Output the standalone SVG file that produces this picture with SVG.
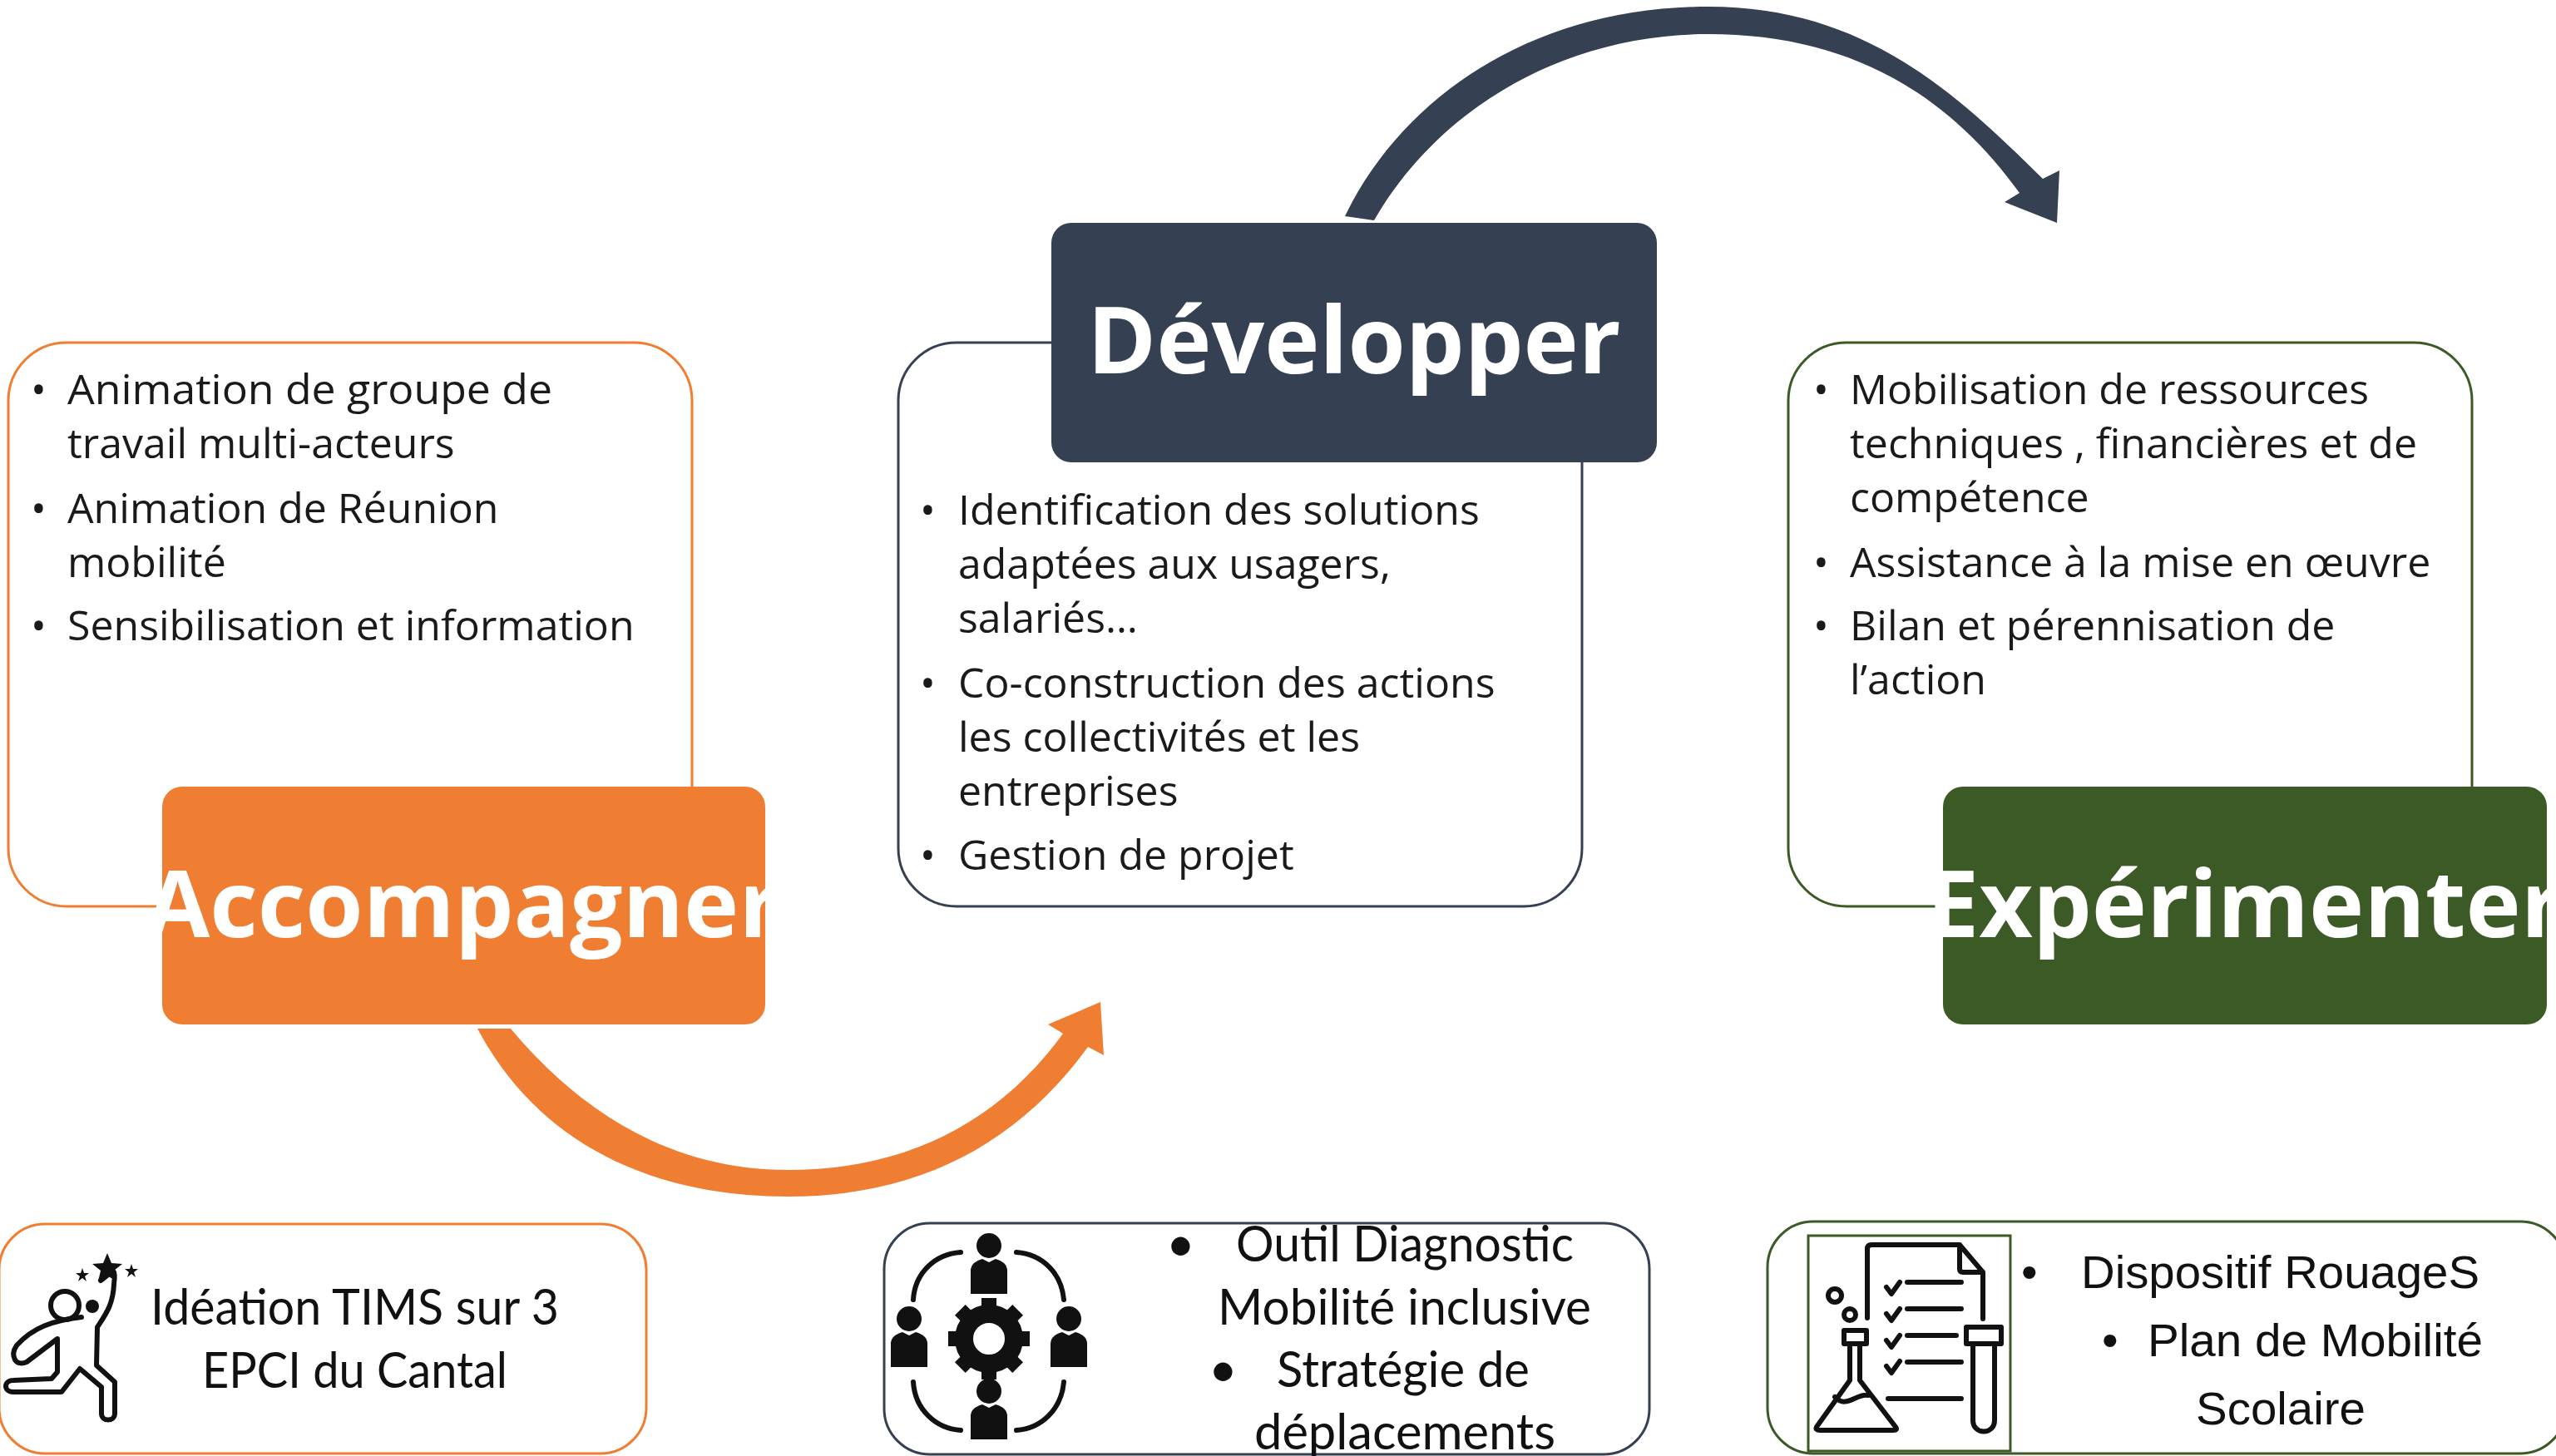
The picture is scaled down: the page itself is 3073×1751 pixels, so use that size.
<svg xmlns="http://www.w3.org/2000/svg" width="3073" height="1751" viewBox="0 0 3073 1751">
<style>
.b{font-family:"Open Sans","Noto Sans",sans-serif;font-size:50px;fill:#1a1a1a}
.t{font-family:"Open Sans","Noto Sans",sans-serif;font-size:112px;font-weight:700;fill:#fff}
.c{font-family:Lato,"Open Sans",sans-serif;font-size:60px;fill:#111}
.a{font-family:"Liberation Sans",Arial,sans-serif;font-size:56px;fill:#111}
.box{fill:#fff;stroke-width:3}
.ic{fill:none;stroke:#111;stroke-width:6;stroke-linecap:round;stroke-linejoin:round}
.icb{fill:#111}
</style>
<defs>
<g id="person"><ellipse cx="0" cy="-22" rx="15" ry="15"/><path d="M-22,36 L-22,8 Q-22,-2 -8,-6 L0,-2 L8,-6 Q22,-2 22,8 L22,36 Z"/></g>
</defs>
<rect width="3073" height="1751" fill="#fff"/>
<g id="connectors">
<path id="arrow-accompagner-developper" fill="#F07E32" d="M574,1237 C650,1380 790,1439 947,1439 C1100,1439 1220,1380 1308,1259 L1327,1269 L1323,1205 L1260,1232 L1278,1243 C1200,1350 1090,1407 947,1407 C810,1407 700,1340 614,1237 Z"/>
<path id="arrow-developper-experimenter" fill="#354052" d="M1617,260 C1690,110 1850,8 2054,8 C2240,8 2350,110 2456,215 L2476,205 L2473,268 L2410,243 L2428,232 C2340,110 2220,41 2054,41 C1880,41 1730,130 1652,265 Z"/>
</g>
<g id="panel-accompagner">
<rect class="box" x="10" y="412" width="822" height="678" rx="70" stroke="#F07E32"/>
<text class="b" x="37" y="486">•</text><text class="b" x="81" y="486" textLength="583" lengthAdjust="spacingAndGlyphs">Animation de groupe de</text>
<text class="b" x="81" y="551">travail multi-acteurs</text>
<text class="b" x="37" y="629">•</text><text class="b" x="81" y="629">Animation de Réunion</text>
<text class="b" x="81" y="694">mobilité</text>
<text class="b" x="37" y="770">•</text><text class="b" x="81" y="770">Sensibilisation et information</text>
</g>
<g id="node-accompagner">
<rect x="195" y="946" width="725" height="286" rx="24" fill="#F07E32"/>
<text class="t" x="557" y="1127" text-anchor="middle">Accompagner</text>
</g>
<g id="panel-developper">
<rect class="box" x="1080" y="412" width="822" height="678" rx="70" stroke="#354052"/>
<text class="b" x="1106" y="631">•</text><text class="b" x="1152" y="631">Identification des solutions</text>
<text class="b" x="1152" y="696">adaptées aux usagers,</text>
<text class="b" x="1152" y="761">salariés…</text>
<text class="b" x="1106" y="839">•</text><text class="b" x="1152" y="839">Co-construction des actions</text>
<text class="b" x="1152" y="904">les collectivités et les</text>
<text class="b" x="1152" y="969">entreprises</text>
<text class="b" x="1106" y="1046">•</text><text class="b" x="1152" y="1046">Gestion de projet</text>
</g>
<g id="node-developper">
<rect x="1264" y="268" width="728" height="288" rx="24" fill="#354052"/>
<text class="t" x="1628" y="449" text-anchor="middle">Développer</text>
</g>
<g id="panel-experimenter">
<rect class="box" x="2150" y="412" width="822" height="678" rx="70" stroke="#3C5A25"/>
<text class="b" x="2180" y="486">•</text><text class="b" x="2224" y="486">Mobilisation de ressources</text>
<text class="b" x="2224" y="551">techniques , financières et de</text>
<text class="b" x="2224" y="616">compétence</text>
<text class="b" x="2180" y="694">•</text><text class="b" x="2224" y="694">Assistance à la mise en œuvre</text>
<text class="b" x="2180" y="770">•</text><text class="b" x="2224" y="770">Bilan et pérennisation de</text>
<text class="b" x="2224" y="835">l’action</text>
</g>
<g id="node-experimenter">
<rect x="2336" y="946" width="726" height="286" rx="24" fill="#3C5A25"/>
<text class="t" x="2699" y="1127" text-anchor="middle">Expérimenter</text>
</g>
<g id="card-ideation">
<rect class="box" x="-1" y="1472" width="778" height="276" rx="55" stroke="#F07E32" stroke-width="4"/>
<g id="icon-runner">
<path class="ic" d="M121,1540 C135,1530 140,1520 137,1544 C136,1570 126,1582 117,1596 L116,1642 L138,1662 L138,1700 C138,1710 122,1710 122,1700 L122,1668 L96,1646 L74,1674 L16,1674 C4,1674 4,1660 16,1660 L62,1658 L69,1650 L69,1610 L32,1638 C18,1644 12,1630 20,1618 C40,1596 64,1588 98,1584"/>
<circle class="ic" cx="78" cy="1570" r="17"/>
<circle class="icb" cx="111" cy="1571" r="8"/>
<path class="icb" d="M129,1507 l5,12 13,1 -10,8 3,13 -11,-7 -11,7 3,-13 -10,-8 13,-1 Z"/>
<path class="icb" d="M99,1525 l2,6 6,0 -5,4 2,6 -5,-4 -5,4 2,-6 -5,-4 6,0 Z"/>
<path class="icb" d="M158,1520 l2,6 6,0 -5,4 2,6 -5,-4 -5,4 2,-6 -5,-4 6,0 Z"/>
</g>
<text class="c" x="181" y="1593" textLength="491" lengthAdjust="spacingAndGlyphs">Idéation TIMS sur 3</text>
<text class="c" x="243" y="1669" textLength="367" lengthAdjust="spacingAndGlyphs">EPCI du Cantal</text>
</g>
<g id="card-diagnostic">
<rect class="box" x="1063" y="1471" width="920" height="278" rx="55" stroke="#354052" stroke-width="4"/>
<g id="icon-gear" class="icb">
<use href="#person" x="1189" y="1520"/><use href="#person" x="1093" y="1608"/><use href="#person" x="1285" y="1608"/><use href="#person" x="1189" y="1695"/>
<circle cx="1189" cy="1610" r="30" fill="none" stroke="#111" stroke-width="22"/>
<path d="M1180,1561 h18 v20 h-18 Z M1180,1639 h18 v20 h-18 Z M1140,1601 h20 v18 h-20 Z M1218,1601 h20 v18 h-20 Z"/>
<path d="M1180,1561 h18 v20 h-18 Z M1180,1639 h18 v20 h-18 Z M1140,1601 h20 v18 h-20 Z M1218,1601 h20 v18 h-20 Z" transform="rotate(45 1189 1610)"/>
<path class="ic" d="M1098,1563 C1100,1530 1125,1508 1155,1506 M1222,1506 C1252,1508 1276,1530 1279,1563 M1098,1662 C1100,1695 1125,1718 1155,1720 M1222,1720 C1252,1718 1276,1695 1279,1662"/>
</g>
<text class="c" x="1402" y="1517">•</text><text class="c" x="1486" y="1517" textLength="406" lengthAdjust="spacingAndGlyphs">Outil Diagnostic</text>
<text class="c" x="1464" y="1593" textLength="449" lengthAdjust="spacingAndGlyphs">Mobilité inclusive</text>
<text class="c" x="1453" y="1668">•</text><text class="c" x="1535" y="1668" textLength="304" lengthAdjust="spacingAndGlyphs">Stratégie de</text>
<text class="c" x="1508" y="1743" textLength="362" lengthAdjust="spacingAndGlyphs">déplacements</text>
</g>
<g id="card-rouages">
<rect class="box" x="2125" y="1469" width="960" height="279" rx="55" stroke="#3C5A25" stroke-width="4"/>
<rect id="icon-frame" x="2174" y="1486" width="243" height="259" fill="#fff" stroke="#3C5A25" stroke-width="3"/>
<g id="icon-lab" class="ic">
<path d="M2245,1585 V1502 Q2245,1497 2250,1497 H2356 L2384,1530 V1586 M2356,1497 V1526 Q2356,1530 2360,1530 H2384"/>
<circle cx="2206" cy="1558" r="8"/><circle cx="2224" cy="1581" r="7"/>
<path d="M2268,1548 l6,8 10,-14 M2268,1580 l6,8 10,-14 M2268,1612 l6,8 10,-14 M2268,1643 l6,8 10,-14"/>
<path d="M2293,1542 H2358 M2293,1574 H2358 M2293,1606 H2352 M2293,1638 H2358 M2270,1682 H2358"/>
<rect x="2217" y="1600" width="27" height="16"/><rect x="2364" y="1596" width="42" height="20"/>
<path d="M2224,1616 V1660 L2184,1716 Q2182,1720 2188,1720 H2276 Q2282,1720 2279,1716 L2236,1660 V1616 M2206,1680 C2220,1695 2232,1675 2246,1678"/>
<path d="M2372,1616 V1708 C2372,1726 2398,1726 2398,1708 V1616"/>
</g>
<text class="a" x="2430" y="1549">•</text><text class="a" x="2502" y="1549" textLength="479" lengthAdjust="spacingAndGlyphs">Dispositif RouageS</text>
<text class="a" x="2527" y="1631">•</text><text class="a" x="2582" y="1631" textLength="403" lengthAdjust="spacingAndGlyphs">Plan de Mobilité</text>
<text class="a" x="2640" y="1713" textLength="204" lengthAdjust="spacingAndGlyphs">Scolaire</text>
</g>
</svg>
